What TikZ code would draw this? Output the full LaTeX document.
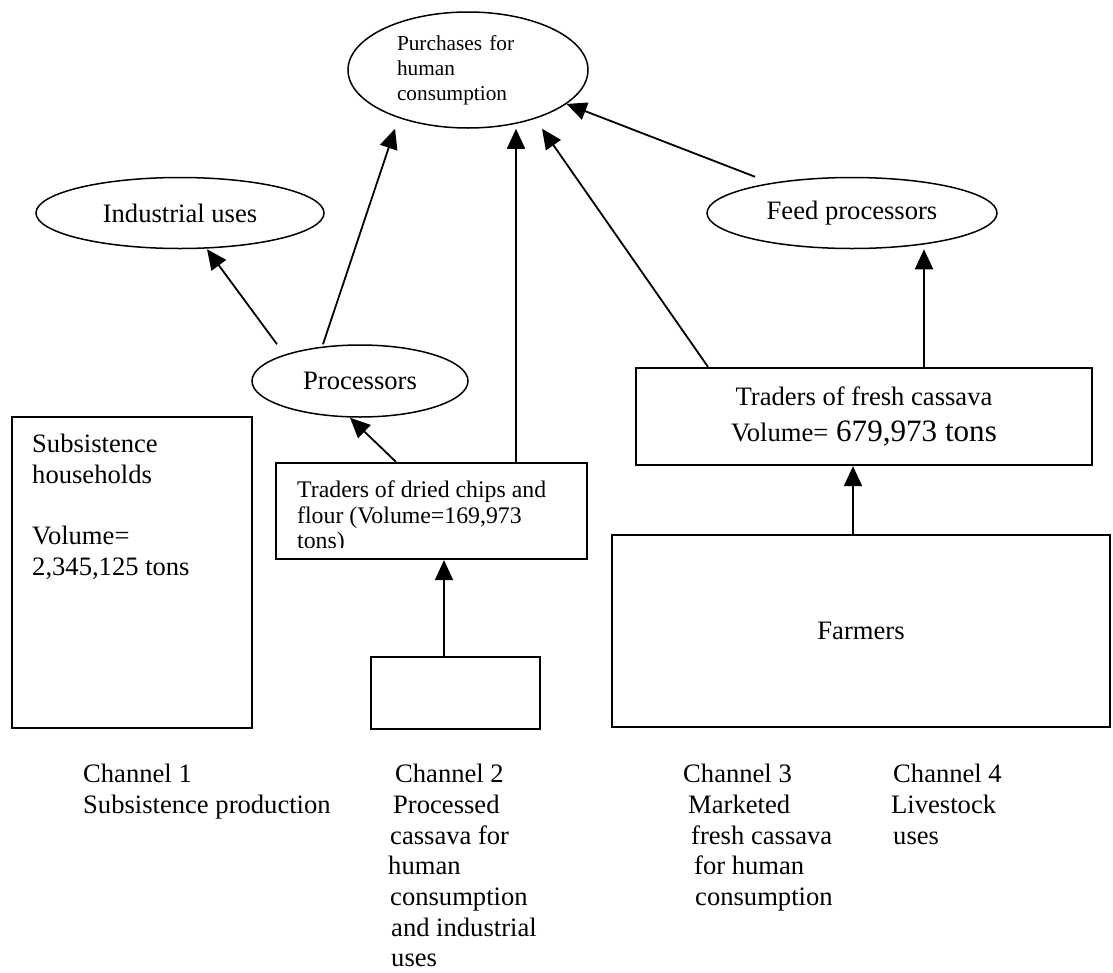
\documentclass[tikz,border=0pt]{standalone}
\usepackage{fontspec}
\setmainfont{Liberation Serif}
\usepackage{tikz}
\usetikzlibrary{shapes.geometric,arrows.meta}

\newcommand{\txtmain}{\fontsize{26.6}{30.7}\selectfont}
\newcommand{\txtsmall}{\fontsize{21.3}{25}\selectfont}
\newcommand{\txtmid}{\fontsize{23.8}{25.5}\selectfont}
\newcommand{\txtbig}{\fontsize{31.1}{36}\selectfont}

\begin{document}
\begin{tikzpicture}[x=1pt,y=-1pt,
    oval/.style={draw,ellipse,line width=1.5pt,inner sep=0pt,font=\txtmain},
    box/.style={draw,rectangle,line width=2.2pt,inner sep=0pt,font=\txtmain},
    arr/.style={-{Triangle[length=20pt,width=18pt]},line width=1.8pt},
    lbl/.style={anchor=north west,align=left,inner sep=0pt,font=\txtmain}]
            \useasboundingbox (0,0) rectangle (1113,972);
            \node[oval,minimum width=240pt,minimum height=116pt,text width=142pt,align=left,font=\txtsmall] (pur) at (468,70) {Purchases for\\human\\consumption};
            \node[oval,minimum width=288pt,minimum height=71pt] (ind) at (180,213) {Industrial uses};
            \node[oval,minimum width=290pt,minimum height=71pt] (feed) at (852,213) {Feed processors};
            \node[oval,minimum width=216pt,minimum height=72pt] (proc) at (360,381) {Processors};
            \node[box,minimum width=240pt,minimum height=311pt] (subs) at (132,572.5) {};
            \node[box,minimum width=311pt,minimum height=96pt] (dried) at (431.5,511) {};
            \node[box,minimum width=169pt,minimum height=72pt] (small) at (455.5,693) {};
            \node[box,minimum width=456pt,minimum height=97pt,align=center] (fresh) at (864,416.5) {Traders of fresh cassava\\[5pt]Volume={\txtbig{} 679,973 tons}};
            \node[box,minimum width=498pt,minimum height=192pt] (farm) at (861,631) {Farmers};
            \node[lbl] (substxt) at (32,434) {Subsistence\\households\\[30.7pt]Volume=\\2,345,125 tons};
            % text runs past the box, cut off as in the original
            \begin{scope}
            \clip (276,463) rectangle (587,547);
            \node[lbl,font=\txtmid] (driedtxt) at (297,481) {Traders of dried chips and\\flour (Volume=169,973\\tons)};
            \end{scope}
            \node[lbl] (ch1) at (83,764) {Channel 1\\Subsistence production};
            \node[lbl] (ch2) at (388,764) {\hspace{7pt}Channel 2\\\hspace{5pt}Processed\\\hspace{2pt}cassava for\\human\\\hspace{2pt}consumption\\\hspace{3pt}and industrial\\\hspace{3pt}uses};
            \node[lbl] (ch3) at (683,764) {Channel 3\\\hspace{5pt}Marketed\\\hspace{8pt}fresh cassava\\\hspace{11pt}for human\\\hspace{12pt}consumption};
            \node[lbl] (ch4) at (891,764) {\hspace{2pt}Channel 4\\Livestock\\\hspace{2pt}uses};
            \coordinate (smalltop) at ([xshift=-11.5pt]small.north);
            \coordinate (freshtop) at ([xshift=60pt]fresh.north);
            \coordinate (farmtop) at ([xshift=-8pt]farm.north);
            \draw[arr] ([xshift=-83pt]proc.north) -- ([xshift=27pt]ind.south);
            \draw[arr] ([xshift=-37pt]proc.north) -- ([xshift=-73pt]pur.south);
            \draw[arr] ([xshift=-35.5pt]dried.north) -- ([xshift=-10pt]proc.south);
            \draw[arr] ([xshift=84.5pt]dried.north) -- ([xshift=48pt]pur.south);
            \draw[arr] (smalltop) -- (smalltop |- dried.south);
            \draw[arr] ([xshift=-156pt]fresh.north) -- ([xshift=74pt]pur.south);
            \draw[arr] (freshtop) -- (freshtop |- feed.south);
            \draw[arr] ([xshift=-97pt]feed.north) -- (pur.-19);
            \draw[arr] (farmtop) -- (farmtop |- fresh.south);
        \end{tikzpicture}
\end{document}
